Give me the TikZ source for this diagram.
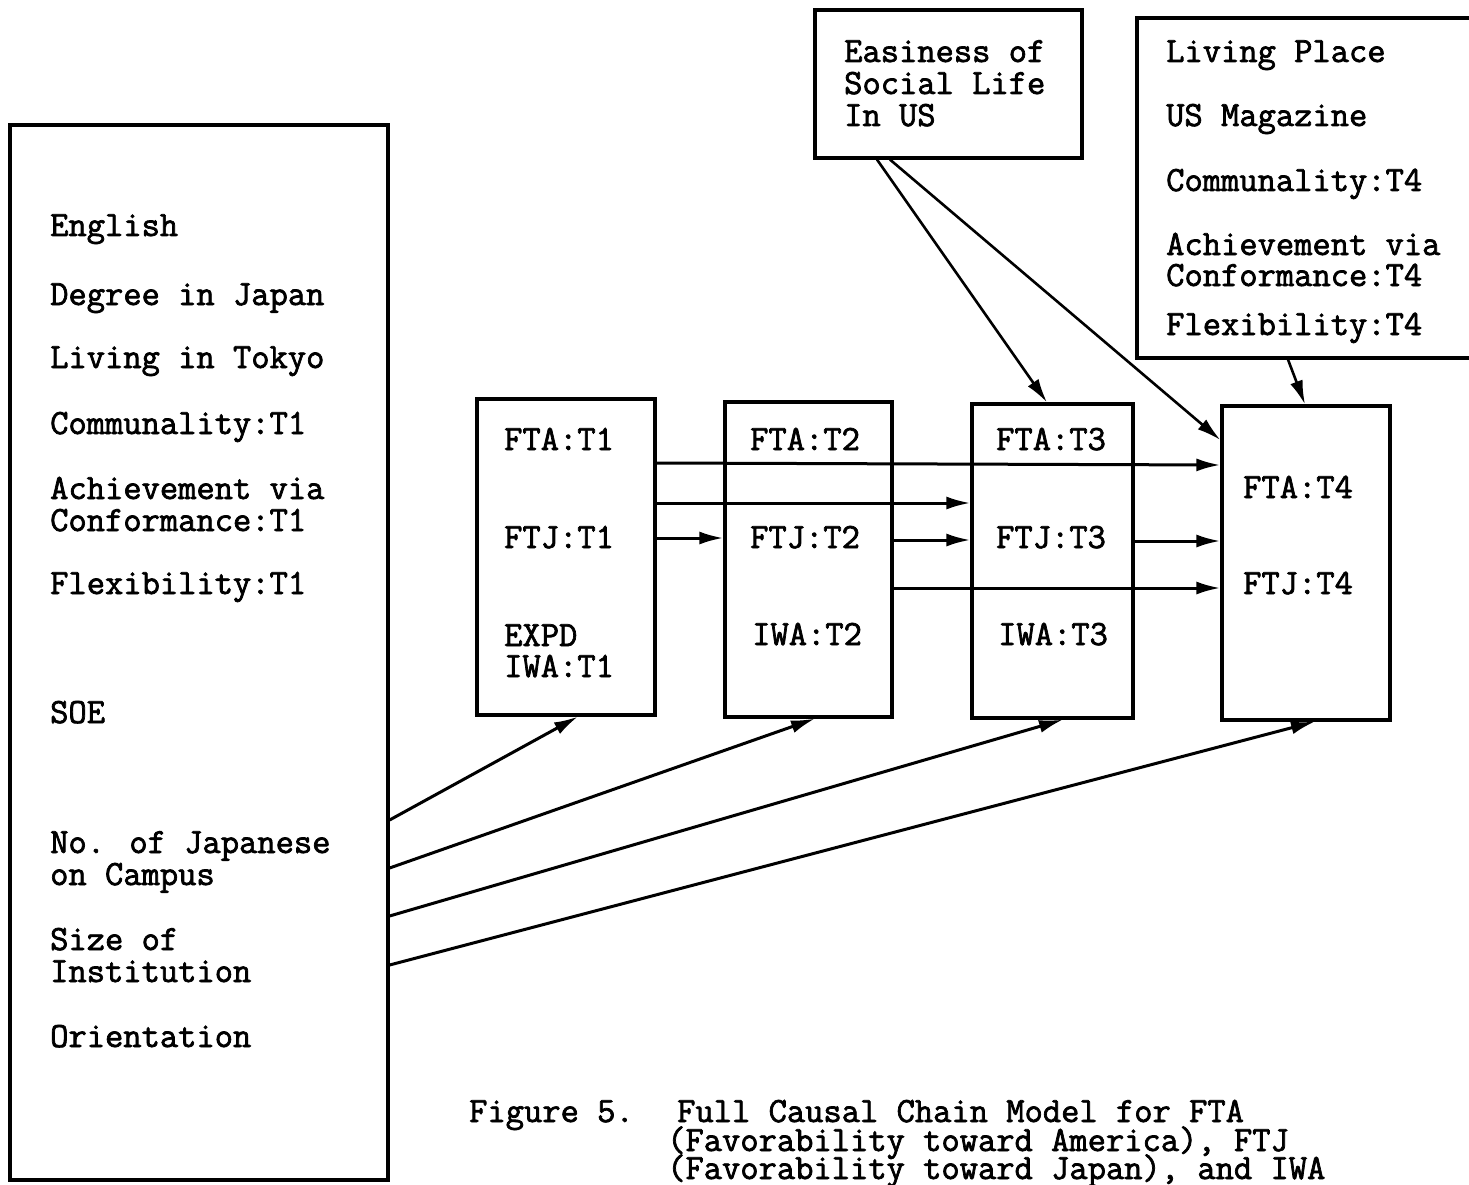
\documentclass[tikz,border=0pt]{standalone}
\usepackage{fontspec}
\newfontfamily\tw{Latin Modern Mono}[FakeBold=2]
\usetikzlibrary{arrows.meta}
\tikzset{
  box/.style={draw, line width=3.2pt, inner sep=0pt, minimum width=#1},
  txt/.style={anchor=base west, inner sep=0pt, font=\tw\fontsize{35.5}{32}\selectfont},
  arr/.style={line width=3pt, -{Latex[length=24pt,width=13pt]}},
  thin arr/.style={line width=2.6pt, -{Latex[length=24pt,width=13pt]}}
}
\begin{document}
\begin{tikzpicture}[x=1pt,y=-1pt]
\useasboundingbox (0,0) rectangle (1469,1185);
\clip (0,0) rectangle (1469,1185);
\fill[white] (0,0) rectangle (1469,1185);
% boxes
\node[box=378, minimum height=1055] (L) at (199,652.5) {};
\node[box=178, minimum height=316] (b1) at (566,557) {};
\node[box=167, minimum height=315] (b2) at (808.5,559.5) {};
\node[box=161, minimum height=314] (b3) at (1052.5,561) {};
\node[box=168, minimum height=314] (b4) at (1306,563) {};
\node[box=267, minimum height=148] (E) at (948.5,84) {};
\node[box=340, minimum height=340] (P) at (1307,188) {};
% left box text
\node[txt] (l1) at (50,236) {English};
\node[txt] (l2) at (50,305) {Degree in Japan};
\node[txt] (l3) at (50,368) {Living in Tokyo};
\node[txt] (l4) at (50,434) {Communality:T1};
\node[txt] (l5) at (50,499) {Achievement via};
\node[txt] (l6) at (50,531) {Conformance:T1};
\node[txt] (l7) at (50,594) {Flexibility:T1};
\node[txt] (l8) at (50,723) {SOE};
\node[txt] (l9) at (50,853) {No. of Japanese};
\node[txt] (l10) at (50,885) {on Campus};
\node[txt] (l11) at (50,950) {Size of};
\node[txt] (l12) at (50,982) {Institution};
\node[txt] (l13) at (50,1047) {Orientation};
% chain boxes text
\node[txt] (a1) at (504,450) {FTA:T1};
\node[txt] (j1) at (504,548) {FTJ:T1};
\node[txt] (x1) at (504,646) {EXPD};
\node[txt] (w1) at (504,677) {IWA:T1};
\node[txt] (a2) at (750,450) {FTA:T2};
\node[txt] (j2) at (750,548) {FTJ:T2};
\node[txt] (w2) at (752,645) {IWA:T2};
\node[txt] (a3) at (996,450) {FTA:T3};
\node[txt] (j3) at (996,548) {FTJ:T3};
\node[txt] (w3) at (998,645) {IWA:T3};
\node[txt] (a4) at (1243,498) {FTA:T4};
\node[txt] (j4) at (1243,594) {FTJ:T4};
% top boxes text
\node[txt] (e1) at (844,62) {Easiness of};
\node[txt] (e2) at (844,94) {Social Life};
\node[txt] (e3) at (844,126) {In US};
\node[txt] (p1) at (1166,62) {Living Place};
\node[txt] (p2) at (1166,126) {US Magazine};
\node[txt] (p3) at (1166,191) {Communality:T4};
\node[txt] (p4) at (1166,255) {Achievement via};
\node[txt] (p5) at (1166,286) {Conformance:T4};
\node[txt] (p6) at (1166,335) {Flexibility:T4};
% caption
\node[txt] (c0) at (469,1122) {Figure 5.};
\node[txt] (c1) at (677,1122) {Full Causal Chain Model for FTA};
\node[txt] (c2) at (667,1151) {(Favorability toward America), FTJ};
\node[txt] (c3) at (667,1179) {(Favorability toward Japan), and IWA};
% horizontal arrows
\draw[arr] (b1.east |- 0,463) -- (b4.west |- 0,465);
\draw[arr] (b1.east |- 0,503) -- (b3.west |- 0,503);
\draw[arr] (b1.east |- 0,538) -- (b2.west |- 0,538);
\draw[arr] (b2.east |- 0,540) -- (b3.west |- 0,540);
\draw[arr] (b3.east |- 0,541) -- (b4.west |- 0,541);
\draw[arr] (b2.east |- 0,588) -- (b4.west |- 0,588);
% diagonal arrows from left box
\draw[arr] (L.east |- 0,820) -- (b1.south -| 578,0);
\draw[arr] (L.east |- 0,868) -- (b2.south -| 815,0);
\draw[arr] (L.east |- 0,916) -- (b3.south -| 1063,0);
\draw[arr] (L.east |- 0,965) -- (b4.south -| 1315,0);
% from top boxes
\draw[thin arr] (E.south -| 877,0) -- (b3.north -| 1047,0);
\draw[thin arr] (E.south -| 890,0) -- (b4.west |- 0,440);
\draw[thin arr] (P.south -| 1288,0) -- (b4.north -| 1305,0);
\end{tikzpicture}
\end{document}
